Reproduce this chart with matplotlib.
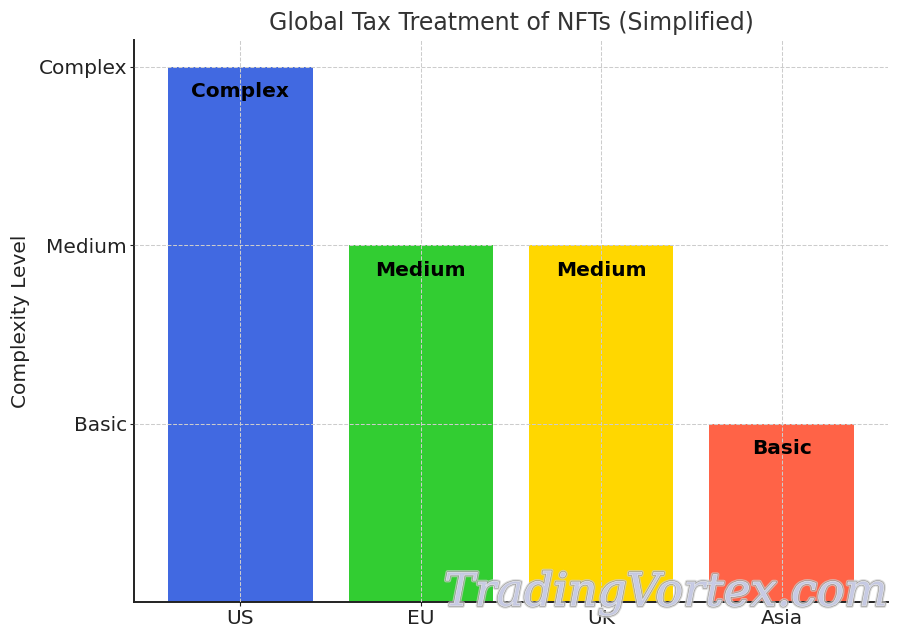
import matplotlib.pyplot as plt
import matplotlib.patheffects as pe

# Valeurs
regions = ['US', 'EU', 'UK', 'Asia']
complexite = [3, 2, 2, 1]
niveaux = ['Basic', 'Medium', 'Complex']
niveaux_pos = [1, 2, 3]
etiquettes = ['Complex', 'Medium', 'Medium', 'Basic']
couleurs = ['royalblue', 'limegreen', 'gold', 'tomato']

fig = plt.figure(figsize=(9, 6.4), dpi=100)
ax = fig.add_axes([134 / 900, 1 - 602 / 640, (888 - 134) / 900, (602 - 40) / 640])

bars = ax.bar(regions, complexite, color=couleurs, width=0.8, zorder=2)
ax.set_ylim(0, 3.15)
ax.set_yticks(niveaux_pos)
ax.set_yticklabels(niveaux)
ax.tick_params(labelsize=14.5, color='#222222', labelcolor='#222222', length=3, pad=2)
ax.set_ylabel('Complexity Level', fontsize=14.5, color='#222222', labelpad=6)
ax.set_title('Global Tax Treatment of NFTs (Simplified)', fontsize=17, color='#333333', pad=7)

ax.grid(True, linestyle='--', color='#cccccc', linewidth=0.75, zorder=3)
ax.set_axisbelow(False)

for s in ['top', 'right']:
    ax.spines[s].set_visible(False)
for s in ['left', 'bottom']:
    ax.spines[s].set_color('#222222')
    ax.spines[s].set_linewidth(1.4)

for b, txt in zip(bars, etiquettes):
    ax.text(b.get_x() + b.get_width() / 2, b.get_height() - 0.14, txt,
            ha='center', va='center', fontsize=14.5, fontweight='bold', color='black', zorder=4)

# Filigrane
wm = fig.text(666 / 900, 1 - 593 / 640, 'TradingVortex.com', ha='center', va='center',
              fontsize=33, family='DejaVu Serif', style='italic',
              color='#c8cce8', alpha=0.35, zorder=10)
wm.set_path_effects([pe.Stroke(linewidth=3.2, foreground='#d0d0d0', alpha=0.7),
                     pe.Stroke(linewidth=1.6, foreground='#808080', alpha=0.7),
                     pe.Stroke(linewidth=0.7, foreground='#f0f0f0', alpha=0.8),
                     pe.Normal()])

fig.savefig('out.png', dpi=100)
